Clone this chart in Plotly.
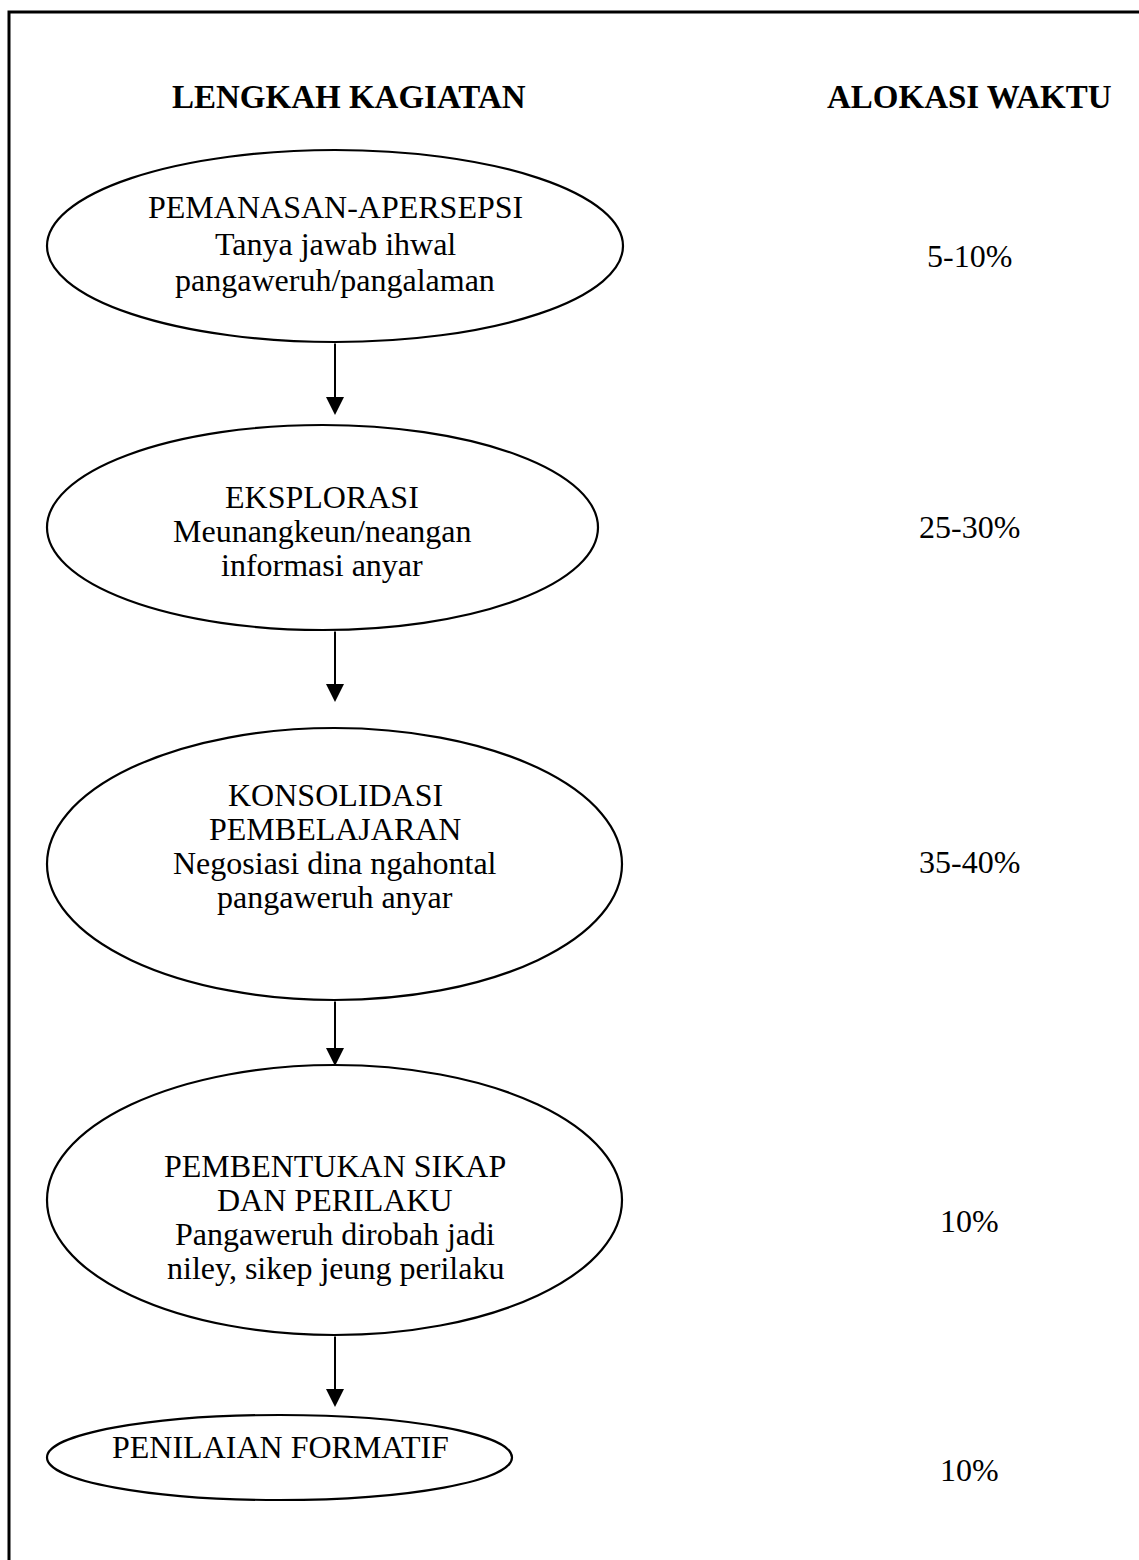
import plotly.graph_objects as go

# ---------------- data ----------------
headers = ["LENGKAH KAGIATAN", "ALOKASI WAKTU"]
step_lines = [
    ["PEMANASAN-APERSEPSI", "Tanya jawab ihwal", "pangaweruh/pangalaman"],
    ["EKSPLORASI", "Meunangkeun/neangan", "informasi anyar"],
    ["KONSOLIDASI", "PEMBELAJARAN", "Negosiasi dina ngahontal", "pangaweruh anyar"],
    ["PEMBENTUKAN SIKAP", "DAN PERILAKU", "Pangaweruh dirobah jadi", "niley, sikep jeung perilaku"],
    ["PENILAIAN FORMATIF"],
]
allocations = ["5-10%", "25-30%", "35-40%", "10%", "10%"]

# ---------------- layout (pixel space) ----------------
W, H = 1139, 1560
header_x = [349, 969]
header_y = 97
ellipse_x0 = [47, 47, 47, 47, 47]
ellipse_x1 = [623, 598, 622, 622, 512]
ellipse_y0 = [150, 425, 728, 1065, 1415]
ellipse_y1 = [342, 630, 1000, 1335, 1500]
text_first_y = [207, 497, 795, 1166, 1447]
line_gap = [36.5, 34, 34, 34, 34]
text_cx = [335, 322, 335, 335, 280]
alloc_x = 969
alloc_y = [256, 527, 862, 1221, 1470]
arrow_x = 335
arrow_tail = [342, 630, 1000, 1335]
arrow_tip = [415, 702, 1066, 1407]

FONT = "Liberation Serif, Times New Roman, serif"
FS = 32
FS_HEAD = 33

fig = go.Figure()
shapes = []
annotations = []

# frame (top + left edge only, as in the reference)
shapes.append(dict(type="path", xref="x", yref="y",
                   path=f"M 9 {H} L 9 12 L {W} 12",
                   line=dict(color="black", width=3)))

for i in range(len(step_lines)):
    shapes.append(dict(type="circle", xref="x", yref="y",
                       x0=ellipse_x0[i], x1=ellipse_x1[i],
                       y0=ellipse_y0[i], y1=ellipse_y1[i],
                       line=dict(color="black", width=2.2), fillcolor="rgba(0,0,0,0)"))
    for j, t in enumerate(step_lines[i]):
        annotations.append(dict(x=text_cx[i], y=text_first_y[i] + j * line_gap[i],
                                xref="x", yref="y", text=t, showarrow=False,
                                xanchor="center", yanchor="middle",
                                font=dict(family=FONT, size=FS, color="black")))
    annotations.append(dict(x=alloc_x, y=alloc_y[i], xref="x", yref="y",
                            text=allocations[i], showarrow=False,
                            xanchor="center", yanchor="middle",
                            font=dict(family=FONT, size=FS, color="black")))

for k, h in enumerate(headers):
    annotations.append(dict(x=header_x[k], y=header_y, xref="x", yref="y",
                            text=f"<b>{h}</b>", showarrow=False,
                            xanchor="center", yanchor="middle",
                            font=dict(family=FONT, size=FS_HEAD, color="black")))

for a in range(len(arrow_tail)):
    annotations.append(dict(x=arrow_x, y=arrow_tip[a], ax=arrow_x, ay=arrow_tail[a],
                            xref="x", yref="y", axref="x", ayref="y",
                            text="", showarrow=True, arrowhead=2, arrowsize=1.8,
                            arrowwidth=2, arrowcolor="black", standoff=0, startstandoff=0))

fig.update_layout(
    width=W, height=H, margin=dict(l=0, r=0, t=0, b=0),
    paper_bgcolor="white", plot_bgcolor="white",
    showlegend=False, shapes=shapes, annotations=annotations,
    xaxis=dict(range=[0, W], visible=False, showgrid=False, zeroline=False, fixedrange=True),
    yaxis=dict(range=[H, 0], visible=False, showgrid=False, zeroline=False, fixedrange=True),
)

fig.write_html("out.html", config={"displayModeBar": False},
               post_script="document.body.style.margin='0';document.body.style.padding='0';")
